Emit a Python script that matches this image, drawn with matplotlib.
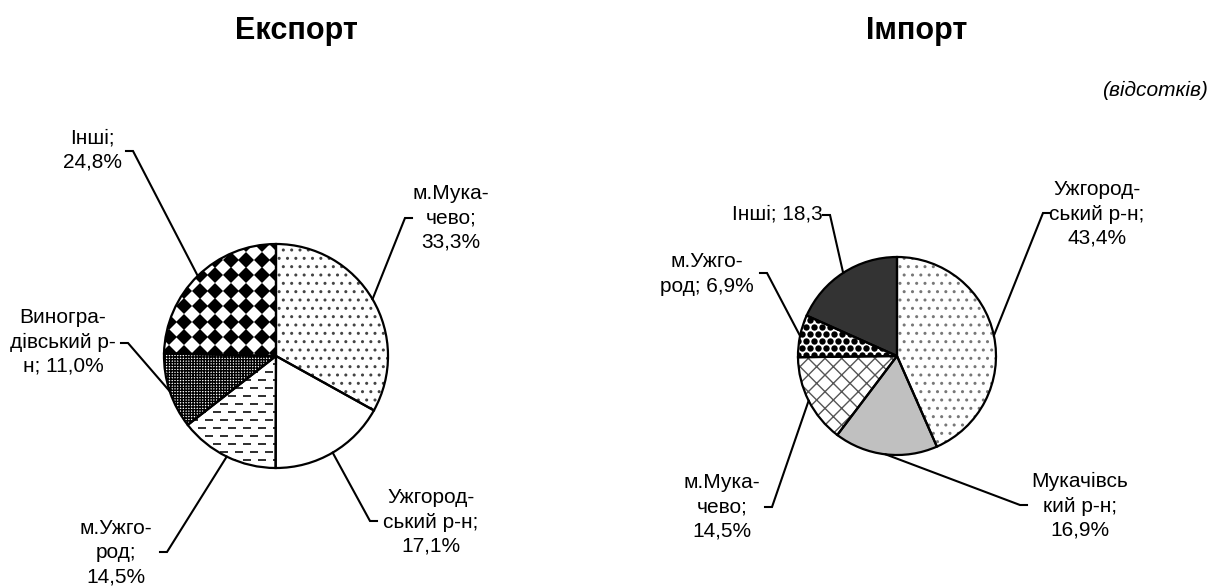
import numpy as np
import matplotlib
matplotlib.use('Agg')
from matplotlib import pyplot as plt

plt.rcParams['font.family'] = ['Liberation Sans', 'DejaVu Sans']
plt.rcParams['hatch.linewidth'] = 1.0

W, H = 1212, 587

# Експорт
exp_labels = ['м.Мука-\nчево;\n33,3%', 'Ужгород-\nський р-н;\n17,1%', 'м.Ужго-\nрод;\n14,5%',
              'Виногра-\nдівський р-\nн; 11,0%', 'Інші;\n24,8%']
exp_values = [33.3, 17.1, 14.5, 11.0, 24.8]

# Імпорт
imp_labels = ['Ужгород-\nський р-н;\n43,4%', 'Мукачівсь\nкий р-н;\n16,9%', 'м.Мука-\nчево;\n14,5%',
              'м.Ужго-\nрод; 6,9%', 'Інші; 18,3']
imp_values = [43.4, 16.9, 14.5, 6.9, 18.3]

# styles: face colour, hatch, hatch colour, extra texture
exp_style = [('white', '..', '#444444', None),
             ('white', '', 'white', None),
             ('white', '', 'white', 'dash'),
             ('white', '++++++', 'black', None),
             ('white', '', 'white', 'diamond')]
imp_style = [('white', '..', '#777777', None),
             ('#c0c0c0', '', '#c0c0c0', None),
             ('white', 'xx', '#555555', None),
             ('white', '', 'white', 'ball'),
             ('#333333', '', '#333333', None)]

# label layout in pixels: elbow of leader line, tick direction, text centre
exp_elbow = [(405, 218), (370, 521), (167, 552), (128, 343), (133, 151)]
exp_tick = [1, 1, -1, -1, -1]
exp_text = [(451, 218), (431, 522), (116, 553), (63, 342), (92, 150)]

imp_elbow = [(1043, 213), (1020, 505), (772, 507), (767, 273), (830, 215)]
imp_tick = [1, 1, -1, -1, -1]
imp_text = [(1097, 214), (1080, 506), (722, 507), (707, 274), (777, 214)]


def texture(ax, wedge, cx, cy, r, kind):
    if kind == 'diamond':
        gx, gy = np.meshgrid(np.arange(cx - r - 11, cx + r, 15.5), np.arange(cy - r, cy + r, 15.5))
        l, = ax.plot(gx.ravel(), gy.ravel(), 'D', ms=8.2, color='black', mew=0, zorder=2)
    elif kind == 'dash':
        pts = []
        for k, yy in enumerate(np.arange(cy - r, cy + r, 8)):
            off = 7.5 if k % 2 else 0
            for xx in np.arange(cx - r + off, cx + r, 15):
                pts.append((xx, yy))
        pts = np.array(pts)
        l, = ax.plot(pts[:, 0], pts[:, 1], '_', ms=6, mew=1.3, color='#333333', zorder=2)
    else:
        pts = []
        for k, yy in enumerate(np.arange(cy - r, cy + r, 7)):
            off = 4 if k % 2 else 0
            for xx in np.arange(cx - r + off, cx + r, 8):
                pts.append((xx, yy))
        pts = np.array(pts)
        l, = ax.plot(pts[:, 0], pts[:, 1], 'o', ms=4.6, mew=0, color='black', zorder=2)
    l.set_clip_path(wedge)


def draw_pie(ax, values, labels, center, r, style, elbows, ticks, texts):
    wedges, _ = ax.pie(values, center=center, radius=r, startangle=-90, counterclock=True,
                       wedgeprops=dict(linewidth=0))
    for w, (fc, hatch, hc, tex) in zip(wedges, style):
        w.set_facecolor(fc)
        w.set_edgecolor(hc)
        w.set_hatch(hatch)
        if tex:
            texture(ax, w, center[0], center[1], r, tex)
    outline, _ = ax.pie(values, center=center, radius=r, startangle=-90, counterclock=True,
                        wedgeprops=dict(facecolor='none', edgecolor='black', linewidth=1.6))
    for w in outline:
        w.set_zorder(3)
    for w, lab, el, tk, tp in zip(wedges, labels, elbows, ticks, texts):
        mid = np.deg2rad((w.theta1 + w.theta2) / 2)
        x0 = center[0] + r * np.cos(mid)
        y0 = center[1] + r * np.sin(mid)
        ax.plot([x0, el[0], el[0] + 7 * tk], [y0, el[1], el[1]], color='black', lw=1.5,
                solid_joinstyle='miter', zorder=4)
        ax.text(tp[0], tp[1], lab, ha='center', va='center', fontsize=15, linespacing=1.35)


fig = plt.figure(figsize=(W / 100, H / 100), dpi=100)
ax = fig.add_axes([0, 0, 1, 1])

draw_pie(ax, exp_values, exp_labels, (276, 356), 112, exp_style, exp_elbow, exp_tick, exp_text)
draw_pie(ax, imp_values, imp_labels, (897, 356), 99, imp_style, imp_elbow, imp_tick, imp_text)

ax.text(296, 31, 'Експорт', ha='center', va='center', fontsize=22, fontweight='bold')
ax.text(917, 31, 'Імпорт', ha='center', va='center', fontsize=22, fontweight='bold')
ax.text(1208, 90, '(відсотків)', ha='right', va='center', fontsize=15, style='italic')

ax.set_xlim(0, W)
ax.set_ylim(H, 0)
ax.set_aspect('auto')
ax.axis('off')

plt.savefig('out.png', dpi=100)
